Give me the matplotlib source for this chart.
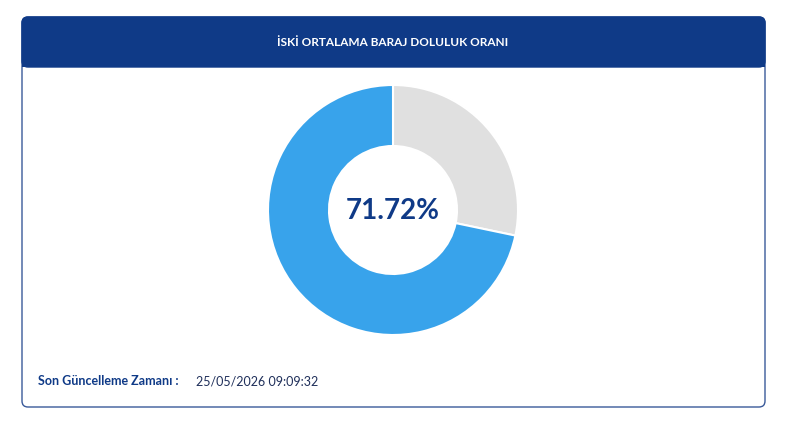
import matplotlib
matplotlib.use('Agg')
import matplotlib.pyplot as plt
from matplotlib.patches import FancyBboxPatch, Rectangle

plt.rcParams['font.family'] = ['Lato', 'DejaVu Sans']

title = "İSKİ ORTALAMA BARAJ DOLULUK ORANI"
fill_pct = 71.72
slice_values = [100 - fill_pct, fill_pct]
slice_colors = ['#e0e0e0', '#38a3eb']
update_label = "Son Güncelleme Zamanı :"
update_time = "25/05/2026 09:09:32"

W, H = 800, 429
fig = plt.figure(figsize=(W / 100, H / 100), dpi=100)
ax = fig.add_axes([0, 0, 1, 1])
ax.set_xlim(0, W)
ax.set_ylim(0, H)
ax.set_aspect('equal')
ax.axis('off')

navy = '#0f3a87'
# card
ax.add_patch(FancyBboxPatch((22, H - 407), 743, 390, boxstyle="round,pad=0,rounding_size=6",
                            facecolor='white', edgecolor='#3a5a9a', linewidth=1))
ax.add_patch(FancyBboxPatch((22, H - 67), 743, 50, boxstyle="round,pad=0,rounding_size=6",
                            facecolor=navy, edgecolor=navy, linewidth=1))
ax.add_patch(Rectangle((22, H - 67), 743, 10, facecolor=navy, edgecolor='none'))
ax.text(393, H - 42, title, color='white', fontsize=8.5, fontweight='bold',
        ha='center', va='center')

ax.pie(slice_values, colors=slice_colors, startangle=90, counterclock=False,
       center=(393, H - 210), radius=125, frame=True,
       wedgeprops=dict(width=61, edgecolor='white', linewidth=1.5))
ax.set_xlim(0, W)
ax.set_ylim(0, H)
ax.axis('off')
ax.text(393, H - 211, f"{fill_pct:.2f}%", color=navy, fontsize=20, fontweight='bold',
        ha='center', va='center')

t = ax.text(38, H - 381, update_label, color=navy, fontsize=9, fontweight='bold',
            ha='left', va='center')
ax.text(196, H - 381, update_time, color='#1f2f5a', fontsize=9, ha='left', va='center')

fig.savefig('out.png', dpi=100)
